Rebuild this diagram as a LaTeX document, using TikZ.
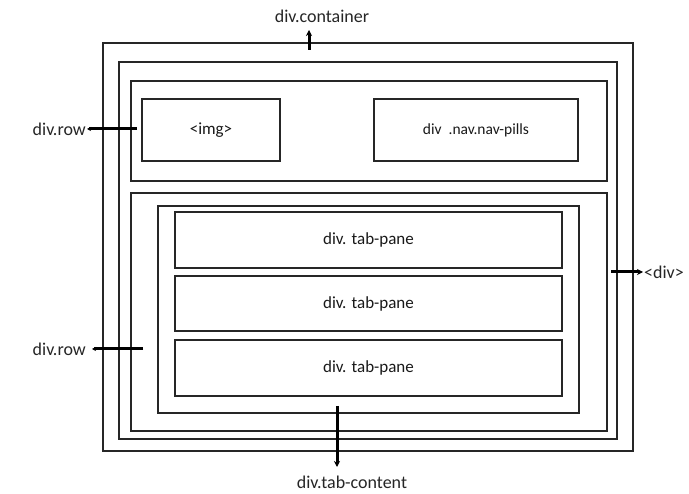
\documentclass[tikz,border=0pt]{standalone}
\usepackage{fontspec}
\setmainfont{Carlito}
\usetikzlibrary{arrows.meta}
\begin{document}
\begin{tikzpicture}[x=1pt,y=-1pt,
  box/.style={draw=black!85,line width=1.4pt,inner sep=0pt,fill=none,
    font=\fontsize{17}{20}\selectfont,text=black!90},
  lbl/.style={inner sep=0pt,font=\fontsize{18}{21}\selectfont,text=black!85},
  arr/.style={line width=3pt,-{Stealth[length=6pt,width=6pt]}}]
\fill[white] (0,0) rectangle (689,494);
\useasboundingbox (0,0) rectangle (689,494);
% boxes
\node[box,minimum width=530pt,minimum height=408pt] (container) at (368,247) {};
\node[box,minimum width=498pt,minimum height=377pt] (inner) at (368,250.5) {};
\node[box,minimum width=476pt,minimum height=100pt] (row1) at (369,131) {};
\node[box,minimum width=138pt,minimum height=62pt] (img) at (211,130) {<img>};
\node[box,minimum width=204pt,minimum height=62pt,font=\fontsize{15.5}{18}\selectfont] (nav) at (476,130) {div\ \ .nav.nav-pills};
\node[box,minimum width=476pt,minimum height=238pt] (row2) at (369,312) {};
\node[box,minimum width=421pt,minimum height=207pt] (tabc) at (368.5,309.5) {};
\node[box,minimum width=387pt,minimum height=56pt] (pane1) at (368.5,240) {div. tab-pane};
\node[box,minimum width=387pt,minimum height=55pt] (pane2) at (368.5,303.5) {div. tab-pane};
\node[box,minimum width=387pt,minimum height=56pt] (pane3) at (368.5,368) {div. tab-pane};
% labels
\node[lbl] (lcont) at (322,16) {div.container};
\node[lbl,anchor=east] (lrow1) at (86,129) {div.row};
\node[lbl,anchor=east] (lrow2) at (86,349) {div.row};
\node[lbl,anchor=west] (ldiv) at (644,272) {<div>};
\node[lbl] (ltab) at (352,482) {div.tab-content};
% connector ends
\coordinate (a1) at (309,50);
\coordinate (a2) at (309,30);
\coordinate (b1) at (137,129);
\coordinate (b2) at (87,129);
\coordinate (c1) at (143,349);
\coordinate (c2) at (92,349);
\coordinate (d1) at (611,272);
\coordinate (d2) at (643,272);
\coordinate (e1) at (337,406);
\coordinate (e2) at (337,467);
\draw[arr] (a1) -- (a2);
\draw[arr,-{Stealth[length=4pt,width=4pt]}] (b1) -- (b2);
\draw[arr,-{Stealth[length=4pt,width=4pt]}] (c1) -- (c2);
\draw[arr] (d1) -- (d2);
\draw[arr] (e1) -- (e2);
\end{tikzpicture}
\end{document}
